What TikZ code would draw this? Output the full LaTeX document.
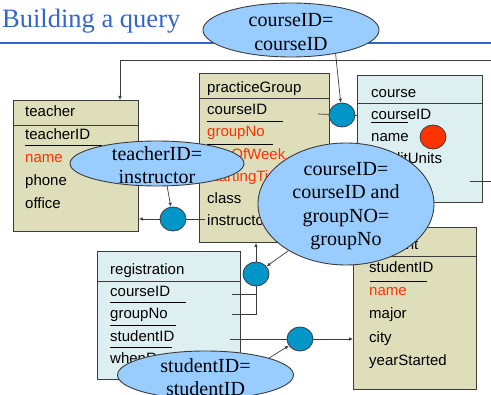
\documentclass[tikz,border=0pt]{standalone}
\usepackage{fontspec}
\setmainfont{Liberation Serif}
\newfontfamily\arialf{Liberation Sans}
\usetikzlibrary{shapes.geometric,arrows.meta}
\definecolor{khaki}{RGB}{222,222,187}
\definecolor{lblue}{RGB}{222,239,242}
\definecolor{ovalblue}{RGB}{153,204,255}
\definecolor{dotblue}{RGB}{0,150,200}
\definecolor{fred}{RGB}{255,51,0}
\definecolor{titleblue}{RGB}{51,102,204}
\definecolor{edge}{RGB}{60,60,60}
\tikzset{
  kbox/.style={draw=edge, line width=0.9pt, fill=khaki, rectangle, inner sep=0pt, anchor=north west},
  bbox/.style={draw=edge, line width=0.9pt, fill=lblue, rectangle, inner sep=0pt, anchor=north west},
  hsep/.style={draw=edge, line width=0.9pt},
  uline/.style={draw=black, line width=0.7pt},
  fld/.style={font=\arialf\fontsize{15}{18}\selectfont, anchor=base west, inner sep=0pt, text=black},
  rfld/.style={fld, text=fred},
  oval/.style={ellipse, draw=edge, line width=0.9pt, fill=ovalblue, inner sep=0pt},
  otext/.style={font=\fontsize{20}{23.5}\selectfont, align=center, inner sep=0pt},
  dot/.style={ellipse, draw=edge, line width=0.8pt, fill=dotblue, minimum width=26pt, minimum height=24pt, inner sep=0pt},
  reddot/.style={dot, fill=fred},
  conn/.style={draw=edge, line width=0.7pt},
  arr/.style={conn, -{Latex[length=4pt,width=3.5pt]}},
}
\begin{document}
\begin{tikzpicture}[x=1pt,y=-1pt]
\useasboundingbox (0,0) rectangle (491,395);
\fill[white] (0,0) rectangle (491,395);
\clip (0,0) rectangle (491,395);

% title
\node[font=\fontsize{26.5}{30}\selectfont, text=titleblue, anchor=base west, inner sep=0pt] (title) at (2,28) {Building a query};
\draw[titleblue, line width=1.3pt] (0,43) -- (491,43);

% boxes
\node[kbox, minimum width=125pt, minimum height=131pt] (teacher) at (13,100) {};
\node[kbox, minimum width=130pt, minimum height=169pt] (pg) at (199,73) {};
\node[bbox, minimum width=125pt, minimum height=127pt] (course) at (357,75) {};
\node[bbox, minimum width=143pt, minimum height=128pt] (reg) at (97,251) {};
\node[kbox, minimum width=123pt, minimum height=162pt] (student) at (353,227) {};

% header separators
\draw[hsep] (teacher.north west) ++(0,25) -- ++(125,0);
\draw[hsep] (pg.north west) ++(0,25) -- ++(130,0);
\draw[hsep] (course.north west) ++(0,28) -- ++(125,0);
\draw[hsep] (reg.north west) ++(0,30) -- ++(143,0);
\draw[hsep] (student.north west) ++(0,29) -- ++(123,0);

% teacher fields
\node[fld] (tH) at (25,117) {teacher};
\node[fld] (t1) at (25,140) {teacherID};
\node[rfld] (t2) at (25,163) {name};
\node[fld] (t3) at (25,186) {phone};
\node[fld] (t4) at (25,209) {office};
\draw[uline] (25,145.5) -- (102,145.5);

% practiceGroup fields
\node[fld] (pH) at (207,93) {practiceGroup};
\node[fld] (p1) at (207,115) {courseID};
\node[rfld] (p2) at (207,137) {groupNo};
\node[rfld] (p3) at (207,160) {dayOfWeek};
\node[rfld] (p4) at (207,182) {startingTime};
\node[fld] (p5) at (207,204) {class};
\node[fld] (p6) at (207,226) {instructor};
\draw[uline] (207,121) -- (283,121);
\draw[uline] (207,144) -- (273,144);

% course fields
\node[fld] (cH) at (371,98) {course};
\node[fld] (c1f) at (371,120) {courseID};
\node[fld] (c2f) at (371,142) {name};
\node[fld] (c3f) at (371,164) {creditUnits};
\draw[uline] (371,122.5) -- (408,122.5);
\node[reddot] (red) at (433,137) {};

% registration fields
\node[fld] (rH) at (110,275) {registration};
\node[fld] (r1) at (110,297) {courseID};
\node[fld] (r2) at (110,319) {groupNo};
\node[fld] (r3) at (110,342) {studentID};
\node[fld] (r4) at (110,364) {whenRegistered};
\draw[uline] (110,302) -- (186,302);
\draw[uline] (110,325) -- (176,325);
\draw[uline] (110,347) -- (172,347);

% student fields
\node[fld] (sH) at (369,250) {student};
\node[fld] (s1) at (369,273) {studentID};
\node[rfld] (s2) at (369,296) {name};
\node[fld] (s3) at (369,319) {major};
\node[fld] (s4) at (369,343) {city};
\node[fld] (s5) at (369,366) {yearStarted};
\draw[uline] (370,281) -- (427,281);

% join dots
\node[dot] (d1) at (342,115) {};
\node[dot] (d2) at (173,219) {};
\node[dot] (d3) at (256,274) {};
\node[dot] (d4) at (300,339) {};

% connector end points
\coordinate (topR) at (491,60);
\coordinate (tTop) at (120,100);
\coordinate (pgCid) at (318,114);
\coordinate (cR1) at (470,181);
\coordinate (cR2) at (491,181);
\coordinate (pgIns) at (205,219);
\coordinate (rCid) at (232,294);
\coordinate (rGno) at (232,314);
\coordinate (rSid) at (230,339);

% connectors
\draw[arr] (topR) -| (tTop);
\draw[conn] (pgCid) -- (d1);
\draw[conn] (d1) -- (d1 -| course.west);
\draw[conn] (cR1) -- (cR2);
\draw[conn] (pgIns) -- (d2);
\draw[arr] (d2) -- (d2 -| teacher.east);
\draw[arr] (d3) -- (d3 |- pg.south);
\draw[conn] (rCid) -| (d3.south);
\draw[conn] (rGno) -| (d3.south);
\draw[conn] (rSid) -- (d4);
\draw[arr] (d4) -- (d4 -| student.west);

% condition ovals
\node[oval, minimum width=176pt, minimum height=54pt] (e1) at (291,30) {};
\node[otext] (e1t) at (291,32) {courseID=\\courseID};
\node[oval, minimum width=174pt, minimum height=45pt] (e2) at (157,163.5) {};
\node[otext] (e2t) at (157,165) {teacherID=\\instructor};
\node[oval, minimum width=176pt, minimum height=122pt] (e3) at (346,204) {};
\node[otext] (e3t) at (346,206) {courseID=\\courseID and\\groupNO=\\groupNo};
\node[oval, minimum width=176pt, minimum height=48pt] (e4) at (205.5,375) {};
\node[otext] (e4t) at (205.5,377) {studentID=\\studentID};

% callout arrows
\draw[arr] (e1.-28) -- (d1);
\draw[arr] (e2.-66) -- (d2);
\draw[arr] (e3.-141) -- (d3);
\draw[arr] (e4.15) -- (d4);
\end{tikzpicture}
\end{document}
